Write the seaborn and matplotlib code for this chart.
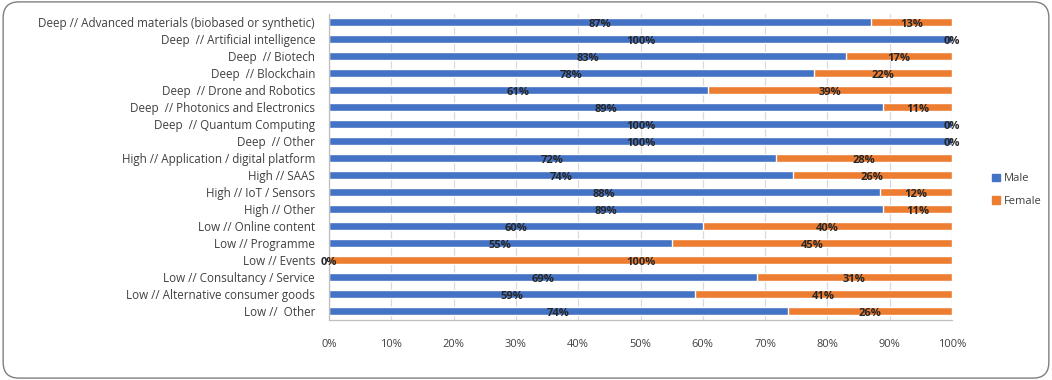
import matplotlib
matplotlib.use("Agg")
import matplotlib.pyplot as plt
import seaborn as sns
import pandas as pd
from matplotlib.patches import FancyBboxPatch, Patch

categorias = [
    "Deep // Advanced materials (biobased or synthetic)",
    "Deep  // Artificial intelligence",
    "Deep  // Biotech",
    "Deep  // Blockchain",
    "Deep  // Drone and Robotics",
    "Deep  // Photonics and Electronics",
    "Deep  // Quantum Computing",
    "Deep  // Other",
    "High // Application / digital platform",
    "High // SAAS",
    "High // IoT / Sensors",
    "High // Other",
    "Low // Online content",
    "Low // Programme",
    "Low // Events",
    "Low // Consultancy / Service",
    "Low // Alternative consumer goods",
    "Low //  Other",
]
male = [87.0, 100, 83.0, 77.8, 60.8, 88.9, 100, 100, 71.7, 74.4, 88.4, 88.9,
        60.0, 55.0, 0, 68.7, 58.7, 73.7]
female = [100 - m for m in male]
ticks = [0, 10, 20, 30, 40, 50, 60, 70, 80, 90, 100]

df = pd.DataFrame({"categoria": categorias, "male": male, "female": female})
df["total"] = df["male"] + df["female"]

azul = "#4472C4"
laranja = "#ED7D31"
cinza = "#404040"

sns.set_style("white")
plt.rcParams["font.family"] = ["Open Sans", "DejaVu Sans"]

fig = plt.figure(figsize=(10.52, 3.8), dpi=100)
ax = fig.add_axes([329 / 1052, 1 - 319.5 / 380, 623 / 1052, 306 / 380])

# barra total (feminino) por baixo, masculino por cima
sns.barplot(data=df, y="categoria", x="total", color=laranja, orient="h",
            width=0.42, ax=ax, saturation=1)
sns.barplot(data=df, y="categoria", x="male", color=azul, orient="h",
            width=0.42, ax=ax, saturation=1)

for i, row in df.iterrows():
    ax.text(row["male"] / 2, i + 0.12, f"{round(row['male'])}%", ha="center",
            va="center", fontsize=8, fontweight="bold", color="#262626")
    ax.text(row["male"] + row["female"] / 2, i + 0.12, f"{round(row['female'])}%",
            ha="center", va="center", fontsize=8, fontweight="bold", color="#262626")

ax.set_xlim(0, 100)
ax.set_ylim(17.5, -0.5)
ax.set_xticks(ticks)
ax.set_xticklabels([f"{t}%" for t in ticks], fontsize=8, color=cinza)
ax.tick_params(axis="x", length=0, pad=14)
ax.tick_params(axis="y", length=0, pad=10, labelsize=8.4, labelcolor=cinza)
ax.set_xlabel("")
ax.set_ylabel("")
ax.grid(axis="x", color="#d9d9d9", linewidth=0.9)
ax.set_axisbelow(True)
for lado in ["top", "right"]:
    ax.spines[lado].set_visible(False)
for lado in ["left", "bottom"]:
    ax.spines[lado].set_color("#bfbfbf")
    ax.spines[lado].set_linewidth(0.9)

handles = [Patch(color=azul, label="Male"), Patch(color=laranja, label="Female")]
fig.legend(handles=handles, loc="center left", bbox_to_anchor=(982 / 1052, 1 - 190 / 380),
           frameon=False, fontsize=8, handlelength=0.7, handleheight=0.7,
           handletextpad=0.4, labelspacing=1.0, labelcolor=cinza)

borda = FancyBboxPatch((0.003, 0.005), 0.994, 0.99, boxstyle="round,pad=0,rounding_size=0.015",
                       transform=fig.transFigure, fill=False, edgecolor="#7f7f7f",
                       linewidth=1.0, mutation_aspect=1052 / 380)
fig.patches.append(borda)

fig.savefig("out.png", dpi=100)
